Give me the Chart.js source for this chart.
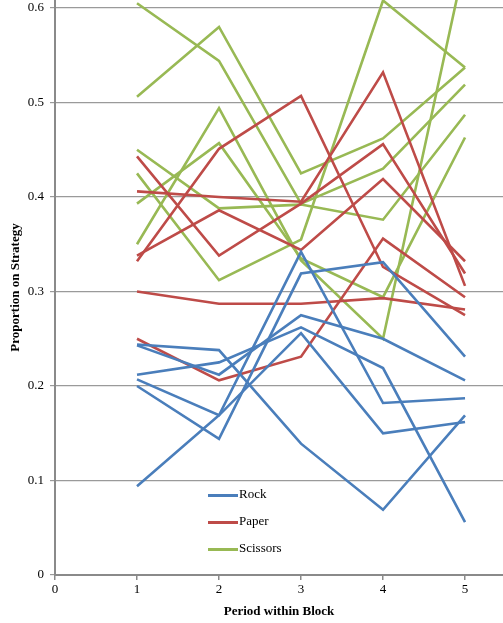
<!DOCTYPE html>
<html>
<head>
<meta charset="utf-8">
<script src="https://cdn.jsdelivr.net/npm/chart.js@4.4.1/dist/chart.umd.min.js"></script>
<style>
  html, body { margin: 0; padding: 0; background: #fff; }
  #wrap { position: relative; width: 503px; height: 623px; }
  #legend { position: absolute; left: 208px; top: 484px; font-family: "Liberation Serif", "Times New Roman", serif; font-size: 13px; color: #000; }
  .item { position: absolute; left: 0; white-space: nowrap; height: 20px; line-height: 20px; }
  .swatch { display: inline-block; width: 30px; height: 3px; vertical-align: middle; margin-right: 1px; }
</style>
</head>
<body>
<div id="wrap">
  <canvas id="c" width="503" height="623"></canvas>
  <div id="legend"></div>
</div>
<script>
// ---- data ----
const periods = [1, 2, 3, 4, 5];
const xTicks = [0, 1, 2, 3, 4, 5];
const yTicks = [0, 0.1, 0.2, 0.3, 0.4, 0.5, 0.6];
const seriesNames = ["Rock", "Paper", "Scissors"];

const rock = [
  [0.244, 0.238, 0.139, 0.069, 0.169],
  [0.243, 0.212, 0.275, 0.250, 0.206],
  [0.212, 0.225, 0.262, 0.219, 0.056],
  [0.207, 0.169, 0.256, 0.150, 0.162],
  [0.200, 0.144, 0.319, 0.331, 0.231],
  [0.094, 0.169, 0.342, 0.182, 0.187]
];
const paper = [
  [0.443, 0.338, 0.393, 0.456, 0.319],
  [0.406, 0.400, 0.395, 0.532, 0.306],
  [0.338, 0.386, 0.344, 0.419, 0.332],
  [0.332, 0.451, 0.507, 0.326, 0.275],
  [0.300, 0.287, 0.287, 0.293, 0.281],
  [0.250, 0.206, 0.231, 0.356, 0.294]
];
const scissors = [
  [0.605, 0.544, 0.393, 0.430, 0.519],
  [0.506, 0.580, 0.425, 0.462, 0.537],
  [0.450, 0.388, 0.392, 0.376, 0.487],
  [0.425, 0.312, 0.355, 0.608, 0.537],
  [0.393, 0.457, 0.335, 0.294, 0.463],
  [0.350, 0.494, 0.333, 0.250, 0.650]
];

const colors = { Rock: "#4A7EBB", Paper: "#BE4B48", Scissors: "#98B954" };
const groups = [["Rock", rock], ["Paper", paper], ["Scissors", scissors]];

const datasets = [];
groups.forEach(([name, lines]) => {
  lines.forEach((vals, i) => {
    datasets.push({
      label: i === 0 ? name : name + " " + (i + 1),
      data: periods.map((p, k) => ({ x: p, y: vals[k] })),
      borderColor: colors[name],
      backgroundColor: colors[name],
      borderWidth: 2.6,
      pointRadius: 0,
      fill: false,
      tension: 0
    });
  });
});

// legend (only first line of each strategy)
const legend = document.getElementById("legend");
seriesNames.forEach((n, i) => {
  const d = document.createElement("div");
  d.className = "item";
  d.style.top = (i * 27) + "px";
  d.innerHTML = '<span class="swatch" style="background:' + colors[n] + '"></span>' + n;
  legend.appendChild(d);
});

const serif = "'Liberation Serif', 'Times New Roman', serif";
const gridGrey = "#9a9a9a";

new Chart(document.getElementById("c"), {
  type: "line",
  data: { datasets },
  options: {
    responsive: false,
    animation: false,
    layout: { padding: { left: 0, right: 0, top: 0, bottom: 0 } },
    plugins: { legend: { display: false }, tooltip: { enabled: false } },
    scales: {
      x: {
        type: "linear",
        min: 0,
        max: 5.463,
        afterBuildTicks: s => { s.ticks = xTicks.map(v => ({ value: v })); },
        afterFit: s => { s.height = 48; s.paddingLeft = 0; s.paddingRight = 0; },
        grid: { drawOnChartArea: false, drawTicks: true, tickLength: 5, color: "#8a8a8a", lineWidth: 1.5 },
        border: { display: true, color: "#8a8a8a", width: 2 },
        ticks: { color: "#000", font: { family: serif, size: 13 }, padding: 2, maxRotation: 0, callback: v => String(v) },
        title: { display: true, text: "Period within Block", color: "#000", font: { family: serif, size: 13, weight: "bold" }, padding: { top: 4, bottom: 4 } }
      },
      y: {
        type: "linear",
        min: 0,
        max: 0.6085,
        afterBuildTicks: s => { s.ticks = yTicks.map(v => ({ value: v })); },
        afterFit: s => { s.width = 55; s.paddingTop = 0; s.paddingBottom = 0; },
        grid: { drawOnChartArea: true, drawTicks: true, tickLength: 5, color: gridGrey, lineWidth: 1.2 },
        border: { display: true, color: "#8a8a8a", width: 2 },
        ticks: { color: "#000", font: { family: serif, size: 13 }, padding: 6, callback: v => String(Math.round(v * 10) / 10) },
        title: { display: true, text: "Proportion on Strategy", color: "#000", font: { family: serif, size: 13, weight: "bold" }, padding: { top: 8, bottom: 0 } }
      }
    }
  }
});
</script>
</body>
</html>
